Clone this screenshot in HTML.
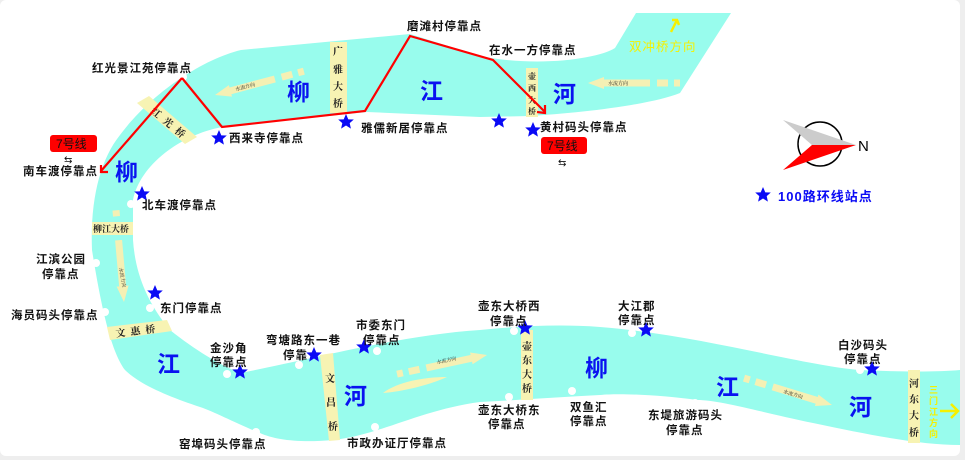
<!DOCTYPE html>
<html><head><meta charset="utf-8"><style>
html,body{margin:0;padding:0;background:#eeeeee;}
svg{display:block;}
.l{font-family:"Liberation Sans","Noto Sans CJK SC",sans-serif;font-size:11.5px;font-weight:bold;fill:#111;letter-spacing:1px;}
.b{font-family:"Liberation Sans","Noto Sans CJK SC",sans-serif;font-size:23px;font-weight:bold;fill:#0a12f0;}
.br{font-family:"Liberation Serif","Noto Serif CJK SC",serif;font-size:10px;font-weight:bold;fill:#222;}
.fl{font-family:"Liberation Serif","Noto Serif CJK SC",serif;font-size:5px;fill:#222;}
</style></head><body>
<svg width="965" height="460" viewBox="0 0 965 460" xmlns="http://www.w3.org/2000/svg">
<defs>
<polygon id="st" points="0,-8 2.3,-2.6 7.8,-2.5 3.7,1.1 4.9,6.6 0,3.5 -4.9,6.6 -3.7,1.1 -7.8,-2.5 -2.3,-2.6" fill="#0a0af5"/>
<g id="ar" fill="#f5f0b4"><polygon points="0,0 -16,-6 -16,6"/><rect x="-62" y="-3.5" width="47" height="7"/><rect x="-80" y="-3.5" width="11" height="7"/><rect x="-92" y="-3.5" width="6" height="7"/></g>
</defs>
<rect x="0" y="0" width="960" height="456" rx="6" fill="#fff"/>
<path d="M636,13 L731,13 L680,93 C650,105 580,113 530,116 L480,117 L367,112 L222,127 C180,135 140,165 133,200 L133,240 C135,270 145,300 170,330 C195,350 220,365 240,373 C300,362 400,335 480,330 C520,326 560,324 600,327 C700,335 800,365 860,370 C900,372 940,372 960,370 L960,445 C920,445 870,435 813,423 C760,412 720,400 697,400 C660,395 620,393 600,395 C560,397 520,400 480,402 C420,410 380,435 333,440 C300,443 275,440 260,433 C235,423 215,412 200,407 C170,397 140,385 125,370 C110,350 100,300 92,250 C90,200 100,160 120,135 C150,95 200,60 241,50 L410,34 L480,56 C540,68 600,58 615,48 Z" fill="#98fced"/>
<!-- bridges -->
<g fill="#f7f3b3">
<polygon points="137,103 149,96 197,137 185,144"/>
<rect x="330" y="42" width="17" height="71"/>
<rect x="526" y="68" width="12" height="49"/>
<rect x="92" y="222" width="41" height="13"/>
<polygon points="107,327 167,320 172,331 110,340"/>
<polygon points="320,355 333,353 340,440 329,441"/>
<rect x="521" y="330" width="12" height="70"/>
<rect x="908" y="370" width="12" height="73"/>
<path d="M383,393 C400,380 430,377 447,377 C430,385 400,392 383,393Z"/>
</g>
<!-- flow arrows -->
<use href="#ar" transform="translate(215,95) rotate(165)"/>
<use href="#ar" transform="translate(588,83) rotate(180)"/>
<use href="#ar" transform="translate(124,302) rotate(85)"/>
<use href="#ar" transform="translate(487,355) rotate(-12)"/>
<use href="#ar" transform="translate(832,405) rotate(17)"/>
<text class="fl" transform="translate(236,91) rotate(-15)">水流方向</text>
<text class="fl" x="608" y="85">水流方向</text>
<text class="fl" transform="translate(119,268) rotate(80)">水流方向</text>
<text class="fl" transform="translate(437,364) rotate(-12)">水流方向</text>
<text class="fl" transform="translate(783,393) rotate(17)">水流方向</text>
<!-- bridge labels -->
<g class="br">
<text transform="translate(150,112) rotate(40)">红</text><text transform="translate(162,122) rotate(40)">光</text><text transform="translate(174,132) rotate(40)">桥</text>
<text x="333" y="55">广</text><text x="333" y="73">雅</text><text x="333" y="90">大</text><text x="333" y="107">桥</text>
<g style="font-size:8px"><text x="528" y="79">壶</text><text x="528" y="91">西</text><text x="528" y="103">大</text><text x="528" y="114">桥</text></g>
<text x="93" y="232" style="font-size:9px">柳江大桥</text>
<text transform="translate(116,337) rotate(-7)" style="letter-spacing:5px">文惠桥</text>
<text x="325" y="382">文</text><text x="326" y="406">昌</text><text x="328" y="430">桥</text>
<text x="522" y="350">壶</text><text x="522" y="364">东</text><text x="522" y="378">大</text><text x="522" y="392">桥</text>
<text x="909" y="387">河</text><text x="909" y="403">东</text><text x="909" y="419">大</text><text x="909" y="436">桥</text>
</g>
<!-- big river chars -->
<text class="b" x="287" y="100">柳</text><text class="b" x="420" y="99">江</text><text class="b" x="553" y="102">河</text>
<text class="b" x="115" y="180">柳</text>
<text class="b" x="157" y="372">江</text><text class="b" x="344" y="404">河</text>
<text class="b" x="585" y="376">柳</text><text class="b" x="716" y="395">江</text><text class="b" x="849" y="415">河</text>
<!-- stops circles -->
<g fill="#fff">
<circle cx="183" cy="77" r="4"/><circle cx="131" cy="204" r="4"/><circle cx="96" cy="263" r="4"/><circle cx="150" cy="308" r="4"/><circle cx="105" cy="312" r="4"/>
<circle cx="227" cy="374" r="4"/><circle cx="299" cy="365" r="4"/><circle cx="377" cy="351" r="4"/><circle cx="256" cy="432" r="4"/><circle cx="375" cy="427" r="4"/>
<circle cx="514" cy="331" r="4"/><circle cx="509" cy="397" r="4"/><circle cx="572" cy="391" r="4"/><circle cx="632" cy="333" r="4"/><circle cx="695" cy="403" r="4"/><circle cx="860" cy="370" r="4"/>
</g>
<!-- red route -->
<polyline points="182,78 222,127 365,111 410,36 493,60 545,112" fill="none" stroke="#f00" stroke-width="2.2"/>
<line x1="182" y1="78" x2="101" y2="171" stroke="#f00" stroke-width="2.2"/>
<polyline points="101,165 101,172 108,172" fill="none" stroke="#f00" stroke-width="2.2"/>
<polyline points="537,112 545,113 545,105" fill="none" stroke="#f00" stroke-width="2.2"/>
<!-- stars -->
<use href="#st" x="219" y="138"/><use href="#st" x="346" y="122"/><use href="#st" x="499" y="121"/><use href="#st" x="533" y="130"/>
<use href="#st" x="142" y="194"/><use href="#st" x="155" y="293"/><use href="#st" x="240" y="372"/><use href="#st" x="314" y="355"/><use href="#st" x="364" y="347"/>
<use href="#st" x="525" y="328"/><use href="#st" x="646" y="330"/><use href="#st" x="872" y="369"/>
<!-- labels -->
<g class="l">
<text x="92" y="72">红光景江苑停靠点</text>
<text x="23" y="175">南车渡停靠点</text>
<text x="229" y="142">西来寺停靠点</text>
<text x="361" y="132">雅儒新居停靠点</text>
<text x="407" y="30">磨滩村停靠点</text>
<text x="489" y="54">在水一方停靠点</text>
<text x="540" y="131">黄村码头停靠点</text>
<text x="142" y="209">北车渡停靠点</text>
<text x="36" y="263">江滨公园</text><text x="42" y="278">停靠点</text>
<text x="160" y="312">东门停靠点</text>
<text x="11" y="319">海员码头停靠点</text>
<text x="210" y="352">金沙角</text><text x="210" y="366">停靠点</text>
<text x="266" y="344">弯塘路东一巷</text><text x="283" y="359">停靠</text>
<text x="356" y="329">市委东门</text><text x="363" y="344">停靠点</text>
<text x="179" y="448">窑埠码头停靠点</text>
<text x="347" y="447">市政办证厅停靠点</text>
<text x="478" y="310">壶东大桥西</text><text x="490" y="325">停靠点</text>
<text x="478" y="414">壶东大桥东</text><text x="488" y="428">停靠点</text>
<text x="570" y="411">双鱼汇</text><text x="570" y="425">停靠点</text>
<text x="618" y="310">大江郡</text><text x="618" y="324">停靠点</text>
<text x="648" y="419">东堤旅游码头</text><text x="666" y="434">停靠点</text>
<text x="838" y="349">白沙码头</text><text x="844" y="363">停靠点</text>
</g>
<!-- 7号线 boxes -->
<rect x="50" y="135" width="47" height="17" rx="3" fill="#f00"/>
<text x="56" y="148" style="font-family:'Liberation Sans','Noto Sans CJK SC',sans-serif;font-size:12px;fill:#111">7号线</text>
<text x="64" y="163" style="font-family:'DejaVu Sans',sans-serif;font-size:10px;fill:#111">⇆</text>
<rect x="541" y="137" width="46" height="17" rx="3" fill="#f00"/>
<text x="547" y="150" style="font-family:'Liberation Sans','Noto Sans CJK SC',sans-serif;font-size:12px;fill:#111">7号线</text>
<text x="558" y="166" style="font-family:'DejaVu Sans',sans-serif;font-size:10px;fill:#111">⇆</text>
<!-- directions -->
<text x="629" y="51" style="font-family:'Liberation Sans','Noto Sans CJK SC',sans-serif;font-size:12.5px;fill:#f5f000;letter-spacing:1px">双冲桥方向</text>
<path d="M671,32 L677,20 M672,20 L677,20 L679,25" stroke="#f5f000" stroke-width="2.5" fill="none"/>
<g style="font-family:'Liberation Sans','Noto Sans CJK SC',sans-serif;font-size:9px;fill:#f5f000;font-weight:bold">
<text x="929" y="393">三</text><text x="929" y="404">门</text><text x="929" y="415">江</text><text x="929" y="426">方</text><text x="929" y="437">向</text></g>
<path d="M940,411 L957,411 M951,404 L958,411 L951,418" stroke="#f5f000" stroke-width="2.5" fill="none"/>
<!-- compass -->
<circle cx="820" cy="144" r="22" fill="none" stroke="#000" stroke-width="1.5"/>
<polygon points="783,120 856,145 812,145" fill="#ccc"/>
<polygon points="783,170 856,145 812,145" fill="#f00"/>
<text x="858" y="151" style="font-family:'Liberation Sans',sans-serif;font-size:15px;fill:#000">N</text>
<!-- legend -->
<use href="#st" x="763" y="195"/>
<text x="778" y="201" style="font-family:'Liberation Sans','Noto Sans CJK SC',sans-serif;font-size:13px;font-weight:bold;fill:#0a0af5;letter-spacing:1px">100路环线站点</text>
</svg>
</body></html>
